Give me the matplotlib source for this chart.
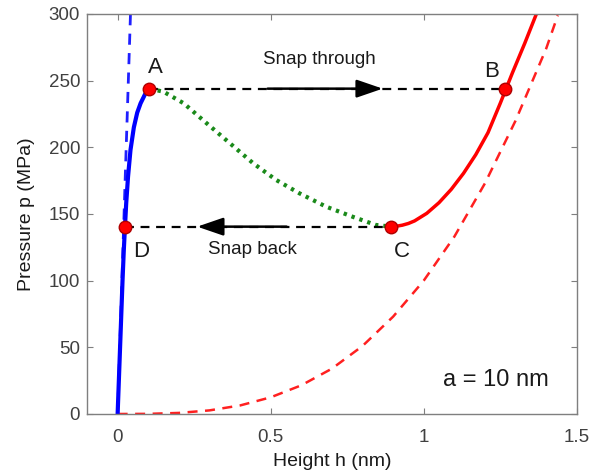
import numpy as np
import matplotlib
matplotlib.use('Agg')
import matplotlib.pyplot as plt

plt.rcParams['font.family'] = ['Liberation Sans', 'DejaVu Sans']

# Stable branch A (blue solid) and its small-h asymptote (blue dashed)
blue_h = [0, 0.008, 0.016, 0.020, 0.024, 0.028, 0.034, 0.042, 0.053, 0.064, 0.075, 0.090, 0.104]
blue_p = [0, 50, 100, 122, 140.5, 158, 178, 198, 215, 226, 233, 240, 244]
blue_dash_h = [0, 0.042]
blue_dash_p = [0, 300]

# Unstable branch (green dotted) from A to C
green_h = [0.104, 0.150, 0.216, 0.291, 0.367, 0.443, 0.518, 0.594, 0.681, 0.767, 0.843, 0.893]
green_p = [244, 241.7, 233, 218, 203, 188, 175.5, 165.5, 155.5, 148, 141.8, 140.5]

# Stable branch B (red solid) and its large-h asymptote (red dashed)
red_h = [0.893, 0.91, 0.93, 0.95, 0.97, 1.01, 1.05, 1.09, 1.13, 1.17, 1.21, 1.25, 1.29, 1.33, 1.368]
red_p = [140.5, 140.8, 141.6, 142.9, 144.8, 150.5, 158.5, 168.5, 180.5, 194.5, 211, 233, 256, 278, 300]
red_dash_h = [0, 0.1, 0.2, 0.3, 0.4, 0.5, 0.6, 0.7, 0.8, 0.9, 1.0, 1.1, 1.2, 1.3, 1.4, 1.438]
red_dash_p = [0, 0.1, 0.8, 2.7, 6.4, 12.5, 21.5, 34, 51, 73, 100, 133, 173, 220, 274, 299]

# Jump points
pts_h = [0.104, 1.265, 0.893, 0.024]
pts_p = [244, 244, 140.5, 140.5]
pts_lab = ['A', 'B', 'C', 'D']
lab_h = [0.123, 1.22, 0.93, 0.078]
lab_p = [259.5, 256.5, 121.5, 121.5]

grey = '#7f7f7f'

fig = plt.figure(figsize=(5.94, 4.74), dpi=100)
ax = fig.add_axes([0.1465, 0.1266, 0.8245, 0.8439])

ax.plot(blue_dash_h, blue_dash_p, '--', color='#1f1fff', lw=2, dashes=(4, 3))
ax.plot(red_dash_h, red_dash_p, '--', color='#ff2020', lw=1.8, dashes=(4, 3))
ax.plot(blue_h, blue_p, '-', color='#0000ff', lw=3)
ax.plot(green_h, green_p, ':', color='#1a8a1a', lw=3, dashes=(0.8, 1.2))
ax.plot(red_h, red_p, '-', color='#ff0000', lw=2.5)

# snap lines
ax.plot([pts_h[0], pts_h[1]], [pts_p[0], pts_p[1]], '--', color='k', lw=1.6, dashes=(4, 3))
ax.plot([pts_h[3], pts_h[2]], [pts_p[3], pts_p[2]], '--', color='k', lw=1.6, dashes=(4, 3))

arrow_style = '-|>,head_length=1.6,head_width=0.55'
ax.annotate('', xy=(0.866, 244), xytext=(0.49, 244),
            arrowprops=dict(arrowstyle=arrow_style, color='k', lw=1.8,
                            shrinkA=0, shrinkB=0))
ax.annotate('', xy=(0.26, 140.5), xytext=(0.552, 140.5),
            arrowprops=dict(arrowstyle=arrow_style, color='k', lw=1.8,
                            shrinkA=0, shrinkB=0))

ax.plot(pts_h, pts_p, 'o', color='#ff0000', markeredgecolor='#b00000', markersize=9, zorder=5)
for lab, x, y in zip(pts_lab, lab_h, lab_p):
    ax.text(x, y, lab, fontsize=16, ha='center', va='center', color='#1a1a1a')

ax.text(0.66, 266, 'Snap through', fontsize=13.5, ha='center', va='center', color='#1a1a1a')
ax.text(0.44, 123, 'Snap back', fontsize=13.5, ha='center', va='center', color='#1a1a1a')
ax.text(1.237, 25.5, 'a = 10 nm', fontsize=17, ha='center', va='center', color='#1a1a1a')

ax.set_xlim(-0.1, 1.5)
ax.set_ylim(0, 300)
ax.set_xticks([0, 0.5, 1, 1.5])
ax.set_xticklabels(['0', '0.5', '1', '1.5'])
ax.set_yticks([0, 50, 100, 150, 200, 250, 300])
ax.tick_params(direction='in', length=4, top=True, right=True, colors=grey,
               labelcolor='#404040', labelsize=13.5)
ax.tick_params(axis='x', pad=11)
ax.tick_params(axis='y', pad=5)
for s in ax.spines.values():
    s.set_color(grey)
    s.set_linewidth(1)

ax.set_xlabel('Height h (nm)', fontsize=14, color='#1a1a1a', labelpad=5)
ax.set_ylabel('Pressure p (MPa)', fontsize=14, color='#1a1a1a', labelpad=10)

fig.savefig('out.png', dpi=100)
